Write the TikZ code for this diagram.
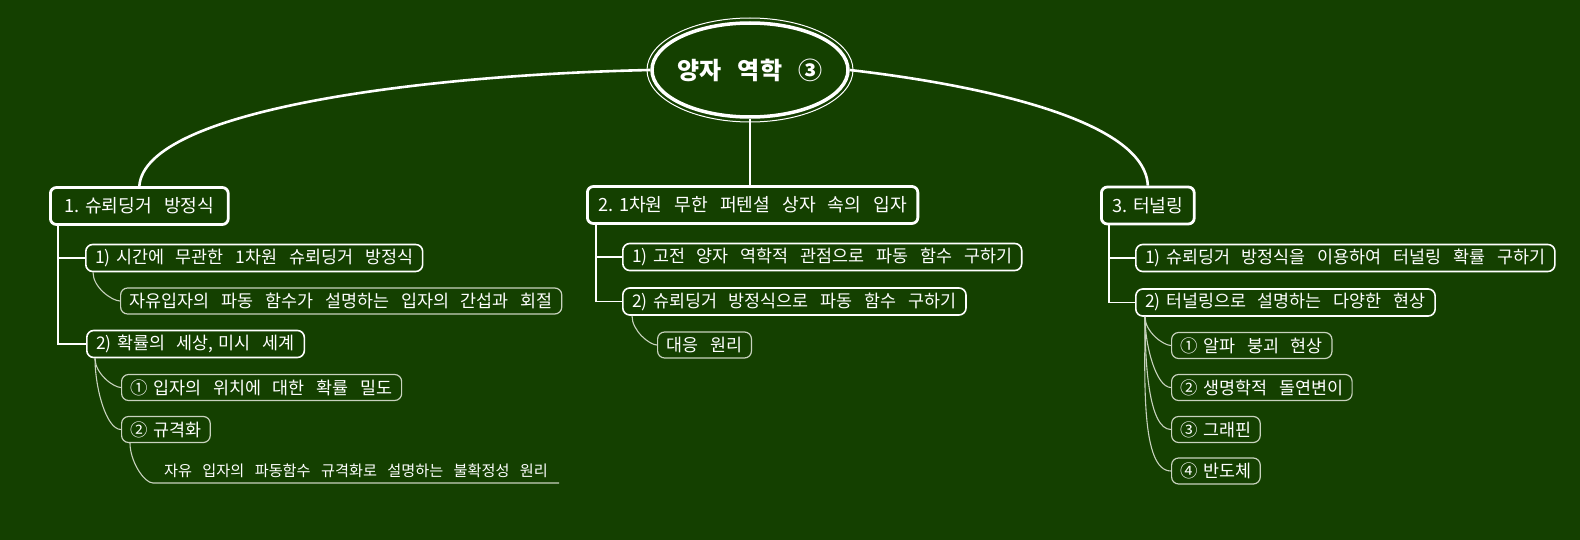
\documentclass[tikz,border=0pt]{standalone}
\usepackage{fontspec}
\newfontfamily\kr{Noto Sans CJK KR}
\usetikzlibrary{shapes.geometric, positioning}
\definecolor{board}{RGB}{20,64,0}
\definecolor{chalkgrey}{RGB}{200,210,190}
\newcommand\wordgap[1]{\spaceskip #1em\relax}
\newcommand\numsp{\hspace{.3em}}

\begin{document}
\begin{tikzpicture}[x=1pt, y=-1pt]
    \tikzset{
      central/.style={ellipse, draw=white, line width=3.5pt, text=white,
        minimum width=196pt, minimum height=94pt, inner xsep=-24pt, inner ysep=0pt,
        font={\kr\bfseries\fontsize{24}{28}\selectfont\wordgap{.68}}},
      topic/.style={rectangle, draw=white, line width=2.8pt, rounded corners=6pt,
        text=white, anchor=west, minimum height=37pt, inner xsep=11pt,
        font={\kr\fontsize{18.2}{22}\selectfont\wordgap{.66}}},
      subtopic/.style={rectangle, draw=white, line width=1.6pt, rounded corners=7pt,
        text=white, anchor=west, minimum height=27pt, inner xsep=9.5pt,
        font={\kr\fontsize{17.4}{20}\selectfont\wordgap{.68}}},
      detail/.style={subtopic, draw=chalkgrey, line width=1.2pt, inner xsep=9pt,
        minimum height=26pt},
      remark/.style={anchor=south west, text=white, inner xsep=11pt, inner ysep=5pt,
        font={\kr\fontsize{15.2}{18}\selectfont\wordgap{.68}}},
      trunk/.style={white, line width=2.6pt},
      limb/.style={white, line width=1.4pt},
      twig/.style={chalkgrey, line width=1.1pt},
      sprout/.style={out=-90, in=180, in looseness=.5}
    }
    % backdrop
    \useasboundingbox (0,0) rectangle (1580,540);
    \fill[board] (0,0) rectangle (1580,540);

    % main topic
    \node[central] (root) at (750,70) {양자 역학 ③};
    \draw[white, line width=1pt] (root.center) ellipse [x radius=103, y radius=52];

    % first level
    \node[topic, inner xsep=14pt] (n1) at (49,206) {1.\numsp 슈뢰딩거 방정식};
    \node[topic] (n2) at (586,205) {2.\numsp 1차원 무한 퍼텐셜 상자 속의 입자};
    \node[topic] (n3) at (1100,205.5) {3.\numsp 터널링};

    % branch 1
    \node[subtopic] (n1a) at (85,258) {1)\numsp 시간에 무관한 1차원 슈뢰딩거 방정식};
    \node[detail] (n1a1) at (120,301) {자유입자의 파동 함수가 설명하는 입자의 간섭과 회절};
    \node[subtopic] (n1b) at (86,344) {2)\numsp 확률의 세상,\numsp 미시 세계};
    \node[detail] (n1b1) at (121,387.5) {①\numsp 입자의 위치에 대한 확률 밀도};
    \node[detail] (n1b2) at (121,429.5) {②\numsp 규격화};
    \node[remark] (n1b2a) at (153,483) {자유 입자의 파동함수 규격화로 설명하는 불확정성 원리};

    % branch 2
    \node[subtopic] (n2a) at (622,257) {1)\numsp 고전 양자 역학적 관점으로 파동 함수 구하기};
    \node[subtopic] (n2b) at (622,301.5) {2)\numsp 슈뢰딩거 방정식으로 파동 함수 구하기};
    \node[detail] (n2b1) at (657,345) {대응 원리};

    % branch 3
    \node[subtopic] (n3a) at (1135,258) {1)\numsp 슈뢰딩거 방정식을 이용하여 터널링 확률 구하기};
    \node[subtopic] (n3b) at (1135,302.5) {2)\numsp 터널링으로 설명하는 다양한 현상};
    \node[detail] (n3b1) at (1171,345.5) {①\numsp 알파 붕괴 현상};
    \node[detail] (n3b2) at (1171,387.5) {②\numsp 생명학적 돌연변이};
    \node[detail] (n3b3) at (1171,429.5) {③\numsp 그래핀};
    \node[detail] (n3b4) at (1171,471) {④\numsp 반도체};

    % connectors
    \draw[trunk] (root.west) .. controls (420,75) and (145,110) .. (n1.north);
    \draw[trunk] (root.south) -- (root.south |- n2.north);
    \draw[trunk] (root.east) .. controls (980,85) and (1145,120) .. (n3.north);

    \draw[limb] ([xshift=9pt]n1.south west) |- (n1a.west);
    \draw[limb] ([xshift=9pt]n1.south west) |- (n1b.west);
    \draw[twig] ([xshift=8pt]n1a.south west) to[sprout] (n1a1.west);
    \draw[twig] ([xshift=9pt]n1b.south west) to[sprout] (n1b1.west);
    \draw[twig] ([xshift=9pt]n1b.south west) to[sprout] (n1b2.west);
    \draw[twig] ([xshift=9pt]n1b2.south west) to[sprout] (n1b2a.south west)
      -- (n1b2a.south east);

    \draw[limb] ([xshift=10pt]n2.south west) |- (n2a.west);
    \draw[limb] ([xshift=10pt]n2.south west) |- (n2b.west);
    \draw[twig] ([xshift=10pt]n2b.south west) to[sprout] (n2b1.west);

    \draw[limb] ([xshift=9pt]n3.south west) |- (n3a.west);
    \draw[limb] ([xshift=9pt]n3.south west) |- (n3b.west);
    \foreach \k in {1,...,4}
      \draw[twig] ([xshift=10pt]n3b.south west) to[sprout] (n3b\k.west);
\end{tikzpicture}
\end{document}
